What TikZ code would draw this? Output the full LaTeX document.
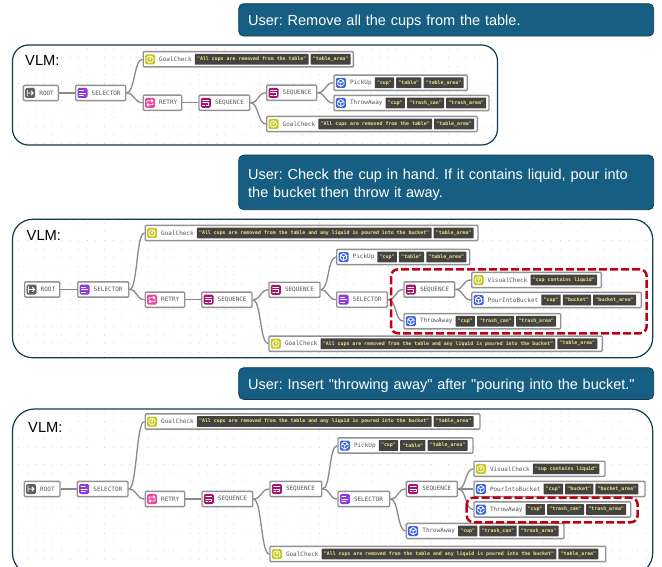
\documentclass[tikz,border=0pt]{standalone}
\usepackage{fontspec}
\setmainfont{Liberation Sans}[Ligatures=TeXOff]
\setmonofont{DejaVu Sans Mono}
\frenchspacing
\definecolor{bubblefill}{HTML}{175F82}
\definecolor{bubbleline}{HTML}{0F3A50}
\definecolor{panelline}{HTML}{123A50}
\definecolor{griddot}{HTML}{C4C4C4}
\definecolor{boxline}{HTML}{929292}
\definecolor{connline}{HTML}{8A8A8A}
\definecolor{labelink}{HTML}{555555}
\definecolor{argfill}{HTML}{45433F}
\definecolor{argink}{HTML}{E8E08C}
\definecolor{redmark}{HTML}{C00014}
\definecolor{icoRootC}{HTML}{5F5F66}
\definecolor{icoSelC}{HTML}{9038E0}
\definecolor{icoRetC}{HTML}{E8459F}
\definecolor{icoSeqC}{HTML}{A6146F}
\definecolor{icoGoalC}{HTML}{C4C81E}
\definecolor{icoActC}{HTML}{3B64E0}
\newcommand\bubbledrop{\rule{0pt}{14.5pt}}
\tikzset{
  x=1pt,y=-1pt,
  bubble/.style={draw=bubbleline,line width=0.8pt,fill=bubblefill,rounded corners=5pt,text=white,
    anchor=north west,align=left,inner xsep=9.5pt,inner ysep=0pt,text width=396pt,
    font=\fontsize{14.5}{18}\selectfont},
  vlmlabel/.style={anchor=west,inner sep=0pt,font=\fontsize{14.7}{17}\selectfont,text=black},
  treebox/.style={draw=boxline,line width=1.4pt,fill=white,rounded corners=1pt,anchor=west,inner sep=0pt,minimum height=15.2pt},
  treelabel/.style={anchor=west,inner ysep=0pt,inner xsep=1pt,text=labelink,font=\fontsize{6}{7}\ttfamily\selectfont},
  treearg/.style={anchor=west,fill=argfill,text=argink,rounded corners=0.5pt,inner xsep=2.3pt,inner ysep=0pt,
    minimum height=10.6pt,font=\fontsize{4.9}{6}\ttfamily\bfseries\selectfont},
  conn/.style={draw=connline,line width=1.3pt},
  redbox/.style={draw=redmark,line width=2.5pt,dash pattern=on 8pt off 3pt,rounded corners=7pt},
  glyph/.style={draw=white,line width=0.8pt,line cap=round,line join=round},
  pics/icoRoot/.style={code={
    \fill[icoRootC,rounded corners=1.5pt] (-5,-5) rectangle (5,5);
    \draw[glyph] (-3,-3)--(-3,3) (-3,0)--(3,0) (1,-2)--(3,0)--(1,2);}},
  pics/icoSel/.style={code={
    \fill[icoSelC,rounded corners=1.5pt] (-5,-5) rectangle (5,5);
    \draw[glyph] (-3,-2.5)--(1,-2.5) (-3,0)--(3,0) (-3,2.5)--(1,2.5);}},
  pics/icoRet/.style={code={
    \fill[icoRetC,rounded corners=1.5pt] (-5,-5) rectangle (5,5);
    \draw[glyph] (-3,0)--(-3,-2)--(3,-2) (1.5,-3.2)--(3,-2)--(1.5,-0.8)
                 (3,0)--(3,2)--(-3,2) (-1.5,0.8)--(-3,2)--(-1.5,3.2);}},
  pics/icoSeq/.style={code={
    \fill[icoSeqC,rounded corners=1.5pt] (-5,-5) rectangle (5,5);
    \draw[glyph] (-3,-2.5)--(3,-2.5) (-3,0)--(3,0)--(3,2.5)--(0.5,2.5) (-3,2.5)--(-1,2.5);}},
  pics/icoGoal/.style={code={
    \fill[icoGoalC,rounded corners=1.5pt] (-5,-5) rectangle (5,5);
    \draw[glyph] (0,0) circle (3.3);
    \draw[glyph,line width=0.6pt] (-1,-0.9) arc[start angle=180,end angle=-60,radius=1] -- (0,1);
    \fill[white] (0,2) circle (0.4);}},
  pics/icoAct/.style={code={
    \fill[icoActC,rounded corners=1.5pt] (-5,-5) rectangle (5,5);
    \draw[glyph] (0,-3.6)--(3.1,-1.8)--(3.1,1.8)--(0,3.6)--(-3.1,1.8)--(-3.1,-1.8)--cycle
                 (-3.1,-1.8)--(0,0)--(3.1,-1.8) (0,0)--(0,3.6);}},
}
% panel with dotted grid: x0,y0,x1,y1,radius
\newcommand\vlmpanel[5]{%
  \fill[white,rounded corners=#5pt] (#1,#2) rectangle (#3,#4);
  \begin{scope}
    \clip[rounded corners=#5pt] (#1,#2) rectangle (#3,#4);
    \pgfmathsetmacro\gx{#1+6}\pgfmathsetmacro\gxb{#1+14.6}
    \pgfmathsetmacro\gy{#2+4}\pgfmathsetmacro\gyb{#2+12.6}
    \foreach \px in {\gx,\gxb,...,#3}{\foreach \py in {\gy,\gyb,...,#4}{\fill[griddot] (\px,\py) circle (0.45);}}
  \end{scope}
  \draw[panelline,line width=1.2pt,rounded corners=#5pt] (#1,#2) rectangle (#3,#4);
}
% tree box: name, left, right, y centre, icon, label
\newcommand\tbox[6]{%
  \pgfmathsetmacro\bw{#3-#2}
  \node[treebox,minimum width=\bw pt] (#1) at (#2,#4) {};
  \pic at ({#2+7.5},#4) {#5};
  \node[treelabel] (#1-a0) at ({#2+15.5},#4) {#6};
}
% argument chips after a box's label
\newcommand\targs[2]{%
  \foreach \argtext [count=\argi from 1, remember=\argi as \argp (initially 0)] in {#2}{
    \node[treearg] (#1-a\argi) at ([xshift=1.7pt]#1-a\argp.east) {\argtext};
  }
}
\newcommand\conn[2]{\draw[conn] (#1.east) .. controls +(8.5,0) and +(-8.5,0) .. (#2.west);}
\begin{document}
\begin{tikzpicture}
\useasboundingbox (0,0) rectangle (662,567);
% --- bubbles
\node[bubble,minimum height=32.4pt] (u1) at (238.3,3.3) {\bubbledrop User: Remove all the cups from the table.};
\node[bubble,minimum height=54.6pt] (u2) at (238.3,154.7) {\bubbledrop User: Check the cup in hand. If it contains liquid, pour into\\the bucket then throw it away.};
\node[bubble,minimum height=31.7pt] (u3) at (238.3,367.3) {\bubbledrop User: Insert "throwing away" after "pouring into the bucket."};

% --- panel 1
\vlmpanel{12.5}{45}{497.5}{145}{16}
\node[vlmlabel] (v1) at (25,60) {VLM:};
\tbox{aroot}{22.7}{57.7}{93}{icoRoot}{ROOT}
\tbox{asel}{75}{125}{93}{icoSel}{SELECTOR}
\tbox{agc}{142.5}{352.7}{59.3}{icoGoal}{GoalCheck}
\targs{agc}{"All cups are removed from the table","table\_area"}
\tbox{aret}{142.5}{181}{102.8}{icoRet}{RETRY}
\tbox{aseq}{198.3}{249}{102.8}{icoSeq}{SEQUENCE}
\tbox{aseqb}{266}{316}{92.8}{icoSeq}{SEQUENCE}
\tbox{apick}{333.3}{466.7}{82.8}{icoAct}{PickUp}
\targs{apick}{"cup","table","table\_area"}
\tbox{athrow}{333.3}{488.3}{103}{icoAct}{ThrowAway}
\targs{athrow}{"cup","trash\_can","trash\_area"}
\tbox{agcb}{266}{476.7}{124}{icoGoal}{GoalCheck}
\targs{agcb}{"All cups are removed from the table","table\_area"}
\conn{aroot}{asel}\conn{asel}{agc}\conn{asel}{aret}\conn{aret}{aseq}
\conn{aseq}{aseqb}\conn{aseq}{agcb}\conn{aseqb}{apick}\conn{aseqb}{athrow}

% --- panel 2
\vlmpanel{12.5}{219.3}{652.7}{357.7}{20}
\node[vlmlabel] (v2) at (26.5,235) {VLM:};
\tbox{broot}{24}{59}{289.5}{icoRoot}{ROOT}
\tbox{bsel}{77}{128}{289.5}{icoSel}{SELECTOR}
\tbox{bgc}{144.5}{477.3}{233}{icoGoal}{GoalCheck}
\targs{bgc}{"All cups are removed from the table and any liquid is poured into the bucket","table\_area"}
\tbox{bret}{144.5}{184}{299.7}{icoRet}{RETRY}
\tbox{bseq}{201}{251.3}{299.7}{icoSeq}{SEQUENCE}
\tbox{bseqb}{268.3}{319.3}{289.8}{icoSeq}{SEQUENCE}
\tbox{bgcb}{268.3}{601.7}{343.7}{icoGoal}{GoalCheck}
\targs{bgcb}{"All cups are removed from the table and any liquid is poured into the bucket","table\_area"}
\tbox{bpick}{336}{469}{257}{icoAct}{PickUp}
\targs{bpick}{"cup","table","table\_area"}
\tbox{bselb}{336}{386.7}{299.6}{icoSel}{SELECTOR}
\tbox{bseqc}{403.3}{454}{289.5}{icoSeq}{SEQUENCE}
\tbox{bvis}{471}{600.7}{280}{icoGoal}{VisualCheck}
\targs{bvis}{"cup contains liquid"}
\tbox{bpour}{471}{640.7}{300}{icoAct}{PourIntoBucket}
\targs{bpour}{"cup","bucket","bucket\_area"}
\tbox{bthrow}{403.3}{560}{321.2}{icoAct}{ThrowAway}
\targs{bthrow}{"cup","trash\_can","trash\_area"}
\conn{broot}{bsel}\conn{bsel}{bgc}\conn{bsel}{bret}\conn{bret}{bseq}
\conn{bseq}{bseqb}\conn{bseq}{bgcb}\conn{bseqb}{bpick}\conn{bseqb}{bselb}
\conn{bselb}{bseqc}\conn{bselb}{bthrow}\conn{bseqc}{bvis}\conn{bseqc}{bpour}
\draw[redbox] (391,269.3) rectangle (646.7,333.3);

% --- panel 3
\vlmpanel{12.5}{409}{652.7}{575}{22}
\node[vlmlabel] (v3) at (28,427) {VLM:};
\tbox{croot}{23.5}{59.3}{489}{icoRoot}{ROOT}
\tbox{csel}{76.7}{127.3}{489}{icoSel}{SELECTOR}
\tbox{cgc}{144.5}{479.3}{421.5}{icoGoal}{GoalCheck}
\targs{cgc}{"All cups are removed from the table and any liquid is poured into the bucket","table\_area"}
\tbox{cret}{144.5}{184}{499}{icoRet}{RETRY}
\tbox{cseq}{201.3}{252}{499}{icoSeq}{SEQUENCE}
\tbox{cseqb}{269.3}{321}{489}{icoSeq}{SEQUENCE}
\tbox{cgcb}{269.3}{605}{554}{icoGoal}{GoalCheck}
\targs{cgcb}{"All cups are removed from the table and any liquid is poured into the bucket","table\_area"}
\tbox{cpick}{337.3}{472.3}{445.5}{icoAct}{PickUp}
\targs{cpick}{"cup","table","table\_area"}
\tbox{cselb}{337.3}{389}{499}{icoSel}{SELECTOR}
\tbox{cseqc}{405.7}{456.7}{489}{icoSeq}{SEQUENCE}
\tbox{cvis}{473.3}{604.3}{468.8}{icoGoal}{VisualCheck}
\targs{cvis}{"cup contains liquid"}
\tbox{cpour}{473.3}{644.3}{489}{icoAct}{PourIntoBucket}
\targs{cpour}{"cup","bucket","bucket\_area"}
\tbox{cthrow}{473.3}{630}{509.5}{icoAct}{ThrowAway}
\targs{cthrow}{"cup","trash\_can","trash\_area"}
\tbox{cthrowb}{405.7}{563.3}{531}{icoAct}{ThrowAway}
\targs{cthrowb}{"cup","trash\_can","trash\_area"}
\conn{croot}{csel}\conn{csel}{cgc}\conn{csel}{cret}\conn{cret}{cseq}
\conn{cseq}{cseqb}\conn{cseq}{cgcb}\conn{cseqb}{cpick}\conn{cseqb}{cselb}
\conn{cselb}{cseqc}\conn{cselb}{cthrowb}\conn{cseqc}{cvis}\conn{cseqc}{cpour}\conn{cseqc}{cthrow}
\draw[redbox] (466.7,497.7) rectangle (637.7,522.3);
\end{tikzpicture}
\end{document}
